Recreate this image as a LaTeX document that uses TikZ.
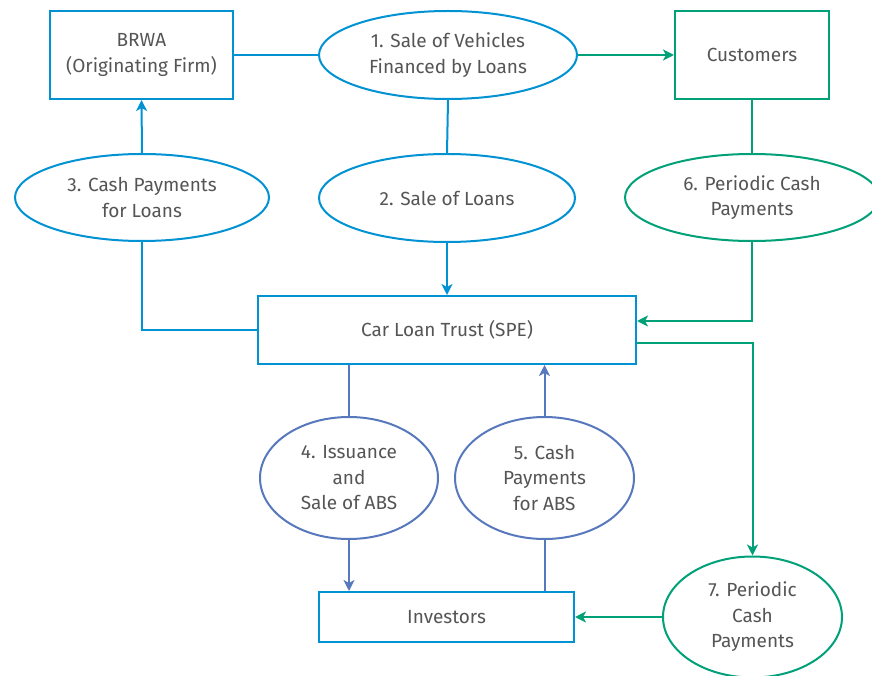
\documentclass[tikz,border=0pt]{standalone}
\usepackage{fontspec}
\setmainfont{Fira Sans}
\usetikzlibrary{shapes.geometric,arrows.meta,calc}
\definecolor{cblue}{RGB}{0,146,210}
\definecolor{cgreen}{RGB}{0,160,120}
\definecolor{cpurple}{RGB}{88,120,190}
\definecolor{ctext}{RGB}{85,85,85}
\begin{document}
\begin{tikzpicture}[x=1pt,y=-1pt,
  every node/.style={font=\fontsize{19}{25.5}\selectfont, text=ctext, align=center, inner sep=0pt},
  ml/.style={execute at begin node={\rule{0pt}{19pt}}},
  boxn/.style={rectangle, line width=2pt},
  ell/.style={ellipse, line width=2pt},
  tip/.style={-{Stealth[length=11pt,width=11pt,inset=3pt]}},
  lb/.style={cblue, line width=2pt},
  lg/.style={cgreen, line width=2pt},
  lp/.style={cpurple, line width=2pt}]
\fill[white] (0,0) rectangle (872,676);
\useasboundingbox (0,0) rectangle (872,676);
% nodes
\node[boxn, ml, draw=cblue, minimum width=183pt, minimum height=88pt] (brwa) at (141.5,55) {BRWA\\(Originating Firm)};
\node[ell, ml, draw=cblue, minimum width=258pt, minimum height=88pt] (e1) at (448,55) {1. Sale of Vehicles\\Financed by Loans};
\node[boxn, draw=cgreen, minimum width=154pt, minimum height=88pt] (cust) at (752,55) {Customers};
\node[ell, ml, draw=cblue, minimum width=254pt, minimum height=87pt] (e3) at (142,197.5) {3. Cash Payments\\for Loans};
\node[ell, draw=cblue, minimum width=256pt, minimum height=88pt] (e2) at (447,198) {2. Sale of Loans};
\node[ell, ml, draw=cgreen, minimum width=254pt, minimum height=87pt] (e6) at (752,197.5) {6. Periodic Cash\\Payments};
\node[boxn, draw=cblue, minimum width=378pt, minimum height=68pt] (trust) at (447,330) {Car Loan Trust (SPE)};
\node[ell, ml, draw=cpurple, minimum width=178pt, minimum height=122pt] (e4) at (349,478) {4. Issuance\\and\\Sale of ABS};
\node[ell, ml, draw=cpurple, minimum width=179pt, minimum height=122pt] (e5) at (544.5,478) {5. Cash\\Payments\\for ABS};
\node[boxn, draw=cblue, minimum width=255pt, minimum height=50pt] (inv) at (446.5,617) {Investors};
\node[ell, ml, draw=cgreen, minimum width=179pt, minimum height=121pt] (e7) at (752.5,617) {7. Periodic\\Cash\\Payments};
% connectors
\draw[lb] (brwa.east) -- (e1.west);
\draw[lg, tip] (e1.east) -- (cust.west);
\draw[lb] (e1.south) -- (e2.north);
\draw[lb, tip] (e3.north) -- (brwa.south);
\draw[lb, tip] (e2.south) -- (trust.north);
\draw[lb] (e3.south) |- (trust.west);
\draw[lg] (cust.south) -- (e6.north);
\draw[lg, tip] (e6.south) |- ([yshift=9pt]trust.east);
\draw[lg, tip] ([yshift=-13pt]trust.east) -| (e7.north);
\draw[lp] (e4.north |- trust.south) -- (e4.north);
\draw[lp, tip] (e4.south) -- (e4.south |- inv.north);
\draw[lp, tip] (e5.north) -- (e5.north |- trust.south);
\draw[lp] (e5.south) -- (e5.south |- inv.north);
\draw[lg, tip] (e7.west) -- (inv.east);
\end{tikzpicture}
\end{document}
